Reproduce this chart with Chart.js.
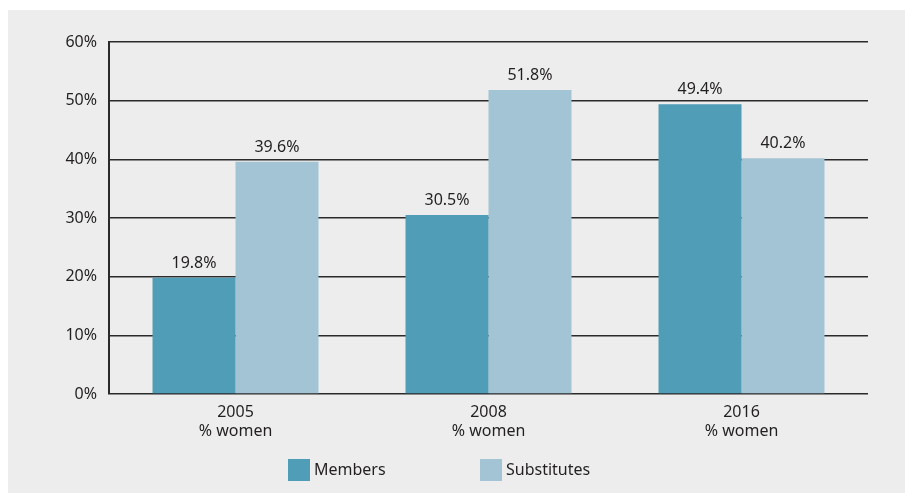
<!DOCTYPE html>
<html>
<head>
<meta charset="utf-8">
<script src="https://cdn.jsdelivr.net/npm/chart.js@4/dist/chart.umd.min.js"></script>
<style>
  html, body { margin: 0; padding: 0; background: #ffffff; }
  #wrap { width: 905px; height: 493px; position: relative; }
</style>
</head>
<body>
<div id="wrap"><canvas id="c" width="905" height="493"></canvas></div>
<script>
const categories = [["2005", "% women"], ["2008", "% women"], ["2016", "% women"]];
const members = [19.8, 30.5, 49.4];
const substitutes = [39.6, 51.8, 40.2];
const seriesNames = ["Members", "Substitutes"];
const yTicks = [0, 10, 20, 30, 40, 50, 60];

const FONT = "'Noto Sans', 'Open Sans', sans-serif";
const TEXT = "#231f20";
const GRID = "#2a2a2a";

const bgPlugin = {
  id: "bg",
  beforeDraw(chart) {
    const ctx = chart.ctx;
    ctx.save();
    ctx.fillStyle = "#ededed";
    ctx.fillRect(8, 10, chart.width - 8, chart.height - 10);
    ctx.restore();
  }
};

const labelPlugin = {
  id: "valueLabels",
  afterDatasetsDraw(chart) {
    const ctx = chart.ctx;
    ctx.save();
    ctx.font = "16px " + FONT;
    ctx.fillStyle = TEXT;
    ctx.textAlign = "center";
    ctx.textBaseline = "alphabetic";
    chart.data.datasets.forEach((ds, di) => {
      const meta = chart.getDatasetMeta(di);
      meta.data.forEach((el, i) => {
        ctx.fillText(ds.data[i].toFixed(1) + "%", el.x, el.y - 10);
      });
    });
    ctx.restore();
  }
};

const legendPlugin = {
  id: "customLegend",
  afterDraw(chart) {
    const ctx = chart.ctx;
    const area = chart.chartArea;
    ctx.save();
    ctx.font = "16px " + FONT;
    ctx.textBaseline = "middle";
    ctx.textAlign = "left";
    const y = 459;
    const starts = [area.left + 179, area.left + 371];
    chart.data.datasets.forEach((ds, i) => {
      const x = starts[i];
      ctx.fillStyle = ds.backgroundColor;
      ctx.fillRect(x, y, 22, 22);
      ctx.fillStyle = TEXT;
      ctx.fillText(ds.label, x + 26, y + 11);
    });
    ctx.restore();
  }
};

new Chart(document.getElementById("c"), {
  type: "bar",
  data: {
    labels: categories,
    datasets: [
      { label: seriesNames[0], data: members, backgroundColor: "#4f9db6", borderWidth: 0 },
      { label: seriesNames[1], data: substitutes, backgroundColor: "#a3c4d4", borderWidth: 0 }
    ]
  },
  options: {
    responsive: false,
    animation: false,
    devicePixelRatio: 1,
    layout: { padding: { top: 42, right: 37, bottom: 0, left: 0 } },
    plugins: {
      legend: { display: false },
      tooltip: { enabled: false }
    },
    datasets: {
      bar: { categoryPercentage: 0.656, barPercentage: 1.0 }
    },
    scales: {
      x: {
        grid: { display: false, drawTicks: false },
        border: { display: false },
        ticks: { color: TEXT, font: { family: FONT, size: 16, lineHeight: 1.2 }, padding: 9, maxRotation: 0 },
        afterFit(scale) { scale.height = 99; }
      },
      y: {
        min: 0,
        max: 60,
        afterBuildTicks(scale) { scale.ticks = yTicks.map(v => ({ value: v })); },
        grid: { color: GRID, lineWidth: 1.5, drawTicks: false },
        border: { display: true, color: GRID, width: 2 },
        ticks: {
          color: TEXT,
          font: { family: FONT, size: 16 },
          padding: 12,
          callback: v => v + "%"
        },
        afterFit(scale) { scale.width = 109; }
      }
    }
  },
  plugins: [bgPlugin, labelPlugin, legendPlugin]
});
</script>
</body>
</html>
